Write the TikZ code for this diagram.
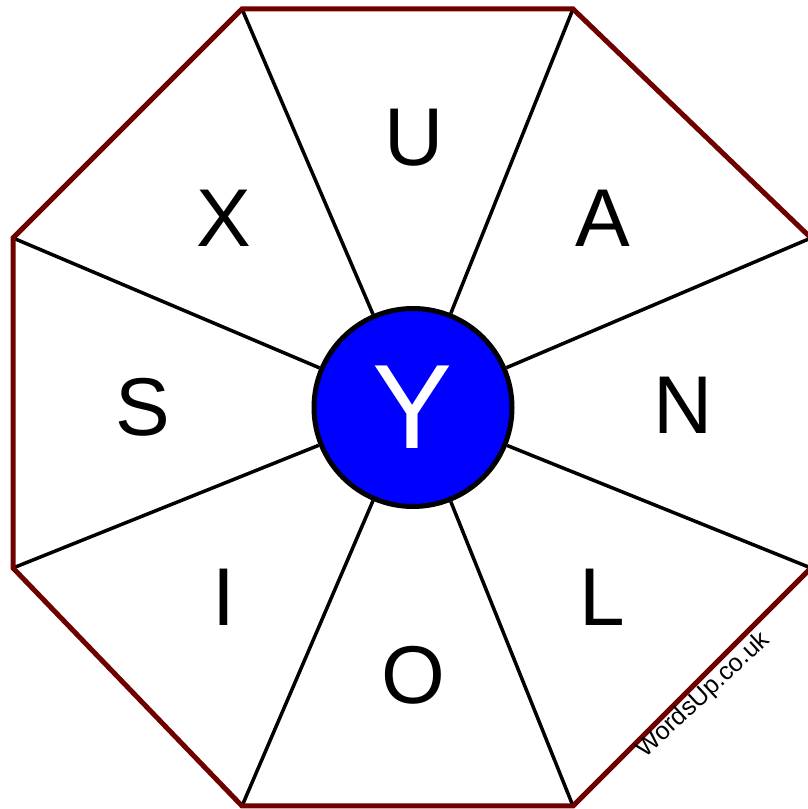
\documentclass[tikz,border=0pt]{standalone}
\usepackage{fontspec}
\setmainfont{Liberation Sans}
\usepackage{tikz}
\definecolor{Rim}{HTML}{6E0000}
\definecolor{Core}{HTML}{0000FF}
\tikzset{
 rim/.style={draw=Rim,line width=5pt,line join=miter},
 spoke/.style={draw=black,line width=3.5pt},
 hub/.style={circle,draw=black,line width=5pt,fill=Core,minimum size=198pt,
   inner sep=0pt,text=white,font=\fontsize{120}{120}\selectfont},
 letter/.style={font=\fontsize{82}{82}\selectfont,inner sep=0pt},
 credit/.style={font=\fontsize{25}{25}\selectfont,rotate=43,anchor=base,inner sep=0pt}
}
\begin{document}
\begin{tikzpicture}[x=1pt,y=1pt]
\useasboundingbox (0,0) rectangle (808,809);
\coordinate (v1) at (242,800);\coordinate (v2) at (573,800);
\coordinate (v3) at (811,571);\coordinate (v4) at (811,241);
\coordinate (v5) at (573,3);\coordinate (v6) at (242,3);
\coordinate (v7) at (13,241);\coordinate (v8) at (13,571);
\node[hub] (hub) at (413,401.5) {Y};
\draw[spoke] (hub)--(v1);\draw[spoke] (hub)--(v2);\draw[spoke] (hub)--(v3);\draw[spoke] (hub)--(v4);
\draw[spoke] (hub)--(v5);\draw[spoke] (hub)--(v6);\draw[spoke] (hub)--(v7);\draw[spoke] (hub)--(v8);
\draw[rim] (v1)--(v2)--(v3)--(v4)--(v5)--(v6)--(v7)--(v8)--cycle;
\node[letter] (u) at (414,671) {U};
\node[letter] (a) at (602.5,591) {A};
\node[letter] (n) at (683.5,403.5) {N};
\node[letter] (l) at (602.5,212) {L};
\node[letter] (o) at (413,133.5) {O};
\node[letter] (i) at (223.5,212) {I};
\node[letter] (s) at (143,401.5) {S};
\node[letter] (x) at (223.5,591) {X};
\node[credit] (site) at (708,109) {WordsUp.co.uk};
\end{tikzpicture}
\end{document}
